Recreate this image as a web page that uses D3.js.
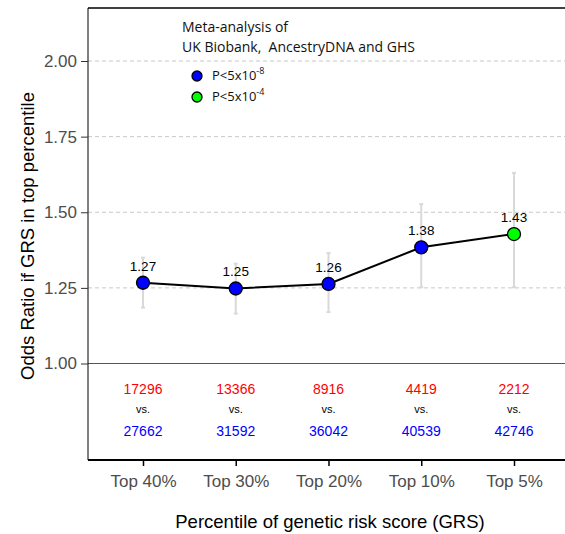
<!DOCTYPE html>
<html><head><meta charset="utf-8">
<script src="https://cdn.jsdelivr.net/npm/d3@7"></script>
<style>body{margin:0;background:#fff}</style></head>
<body><div id="chart"></div>
<script>
const categories = ["Top 40%", "Top 30%", "Top 20%", "Top 10%", "Top 5%"];
const oddsRatio = [1.267, 1.248, 1.263, 1.384, 1.428];
const orLabels = ["1.27", "1.25", "1.26", "1.38", "1.43"];
const ciLow = [1.185, 1.165, 1.17, 1.252, 1.252];
const ciHigh = [1.35, 1.33, 1.365, 1.527, 1.63];
const pGroup = ["p8", "p8", "p8", "p8", "p4"];
const casesN = ["17296", "13366", "8916", "4419", "2212"];
const controlsN = ["27662", "31592", "36042", "40539", "42746"];
const yTicks = [1.0, 1.25, 1.5, 1.75, 2.0];

const W = 565, H = 534;
const pLeft = 88, pTop = 8, pRight = 565, pBottom = 460;
const svg = d3.select("#chart").append("svg").attr("width", W).attr("height", H)
  .style("font-family", "Helvetica, Arial, 'Liberation Sans', sans-serif");

const x = d3.scalePoint().domain(categories).range([143, 514]);
const y = d3.scaleLinear().domain([1.0, 2.0]).range([363.5, 61]);
const color = { p8: "#0000ff", p4: "#00ff00" };

// gridlines
svg.selectAll(".grid").data(yTicks.filter(d => d > 1)).join("line")
  .attr("x1", pLeft).attr("x2", pRight).attr("y1", d => y(d)).attr("y2", d => y(d))
  .attr("stroke", "#c8c8c8").attr("stroke-dasharray", "4,3").attr("stroke-width", 1);
svg.append("line").attr("x1", pLeft).attr("x2", pRight).attr("y1", y(1)).attr("y2", y(1))
  .attr("stroke", "#555").attr("stroke-width", 1.2);

// frame
svg.append("line").attr("x1", pLeft).attr("x2", pRight).attr("y1", pTop).attr("y2", pTop).attr("stroke", "#000").attr("stroke-width", 1.5);
svg.append("line").attr("x1", pLeft).attr("x2", pLeft).attr("y1", pTop).attr("y2", pBottom).attr("stroke", "#000").attr("stroke-width", 1);

// y axis
const yAxis = svg.append("g").attr("transform", `translate(${pLeft},0)`)
  .call(d3.axisLeft(y).tickValues(yTicks).tickFormat(d3.format(".2f")).tickSize(7).tickPadding(4));
yAxis.select(".domain").remove();
yAxis.selectAll("text").attr("fill", "#4d4d4d").style("font-size", "17px");
yAxis.selectAll(".tick line").attr("stroke", "#333");

// x axis
const xAxis = svg.append("g").attr("transform", `translate(0,${pBottom})`)
  .call(d3.axisBottom(x).tickSize(6).tickSizeOuter(0));
xAxis.select(".domain").attr("d", `M${pLeft},0H${pRight}`).attr("stroke-width", 2);
xAxis.selectAll(".tick line").attr("stroke-width", 1.5);
xAxis.selectAll("text").attr("fill", "#4d4d4d").style("font-size", "17px").attr("dy", "1.05em");

// error bars
const idx = d3.range(categories.length);
svg.selectAll(".err").data(idx).join("line")
  .attr("x1", i => x(categories[i])).attr("x2", i => x(categories[i]))
  .attr("y1", i => y(ciLow[i])).attr("y2", i => y(ciHigh[i]))
  .attr("stroke", "#d9d9d9").attr("stroke-width", 2);
svg.selectAll(".cap").data(idx.flatMap(i => [[i, ciLow[i]], [i, ciHigh[i]]])).join("line")
  .attr("x1", d => x(categories[d[0]]) - 2).attr("x2", d => x(categories[d[0]]) + 2)
  .attr("y1", d => y(d[1])).attr("y2", d => y(d[1]))
  .attr("stroke", "#d9d9d9").attr("stroke-width", 2);

// line
svg.append("path").datum(idx)
  .attr("d", d3.line().x(i => x(categories[i])).y(i => y(oddsRatio[i])))
  .attr("fill", "none").attr("stroke", "#000").attr("stroke-width", 2);

svg.selectAll(".pt").data(idx).join("circle")
  .attr("cx", i => x(categories[i])).attr("cy", i => y(oddsRatio[i])).attr("r", 6.5)
  .attr("fill", i => color[pGroup[i]]).attr("stroke", "#000").attr("stroke-width", 1.3);

svg.selectAll(".lab").data(idx).join("text")
  .attr("x", i => x(categories[i])).attr("y", i => y(oddsRatio[i]) - 12)
  .attr("text-anchor", "middle").style("font-size", "13.5px").text(i => orLabels[i]);

// counts
const cnt = svg.append("g").style("font-size", "14px").attr("text-anchor", "middle");
cnt.selectAll(".c").data(idx).join("text").attr("x", i => x(categories[i])).attr("y", 394)
  .attr("fill", "#ff0000").text(i => casesN[i]);
cnt.selectAll(".v").data(idx).join("text").attr("x", i => x(categories[i])).attr("y", 413)
  .style("font-size", "11px").text("vs.");
cnt.selectAll(".n").data(idx).join("text").attr("x", i => x(categories[i])).attr("y", 436)
  .attr("fill", "#0000ff").text(i => controlsN[i]);

// legend
const lg = svg.append("g").style("font-family", "'Open Sans', 'DejaVu Sans', sans-serif").attr("fill", "#111");
lg.append("text").attr("x", 182).attr("y", 32).style("font-size", "14px").text("Meta-analysis of");
lg.append("text").attr("x", 182).attr("y", 52).style("font-size", "14px").text("UK Biobank,\u00a0 AncestryDNA and GHS");
[["p8", "-8", 76], ["p4", "-4", 97]].forEach(([k, e, yy]) => {
  lg.append("circle").attr("cx", 197).attr("cy", yy).attr("r", 5).attr("fill", color[k]).attr("stroke", "#000").attr("stroke-width", 1.3);
  const t = lg.append("text").attr("x", 212).attr("y", yy + 4).style("font-size", "13px");
  t.append("tspan").text("P<5x10");
  t.append("tspan").attr("dy", -6).style("font-size", "9px").text(e);
});

// titles
svg.append("text").attr("x", 330).attr("y", 528).attr("text-anchor", "middle")
  .style("font-size", "18.5px").text("Percentile of genetic risk score (GRS)");
svg.append("text").attr("transform", "translate(34,236) rotate(-90)").attr("text-anchor", "middle")
  .style("font-size", "18.5px").text("Odds Ratio if GRS in top percentile");
</script></body></html>
